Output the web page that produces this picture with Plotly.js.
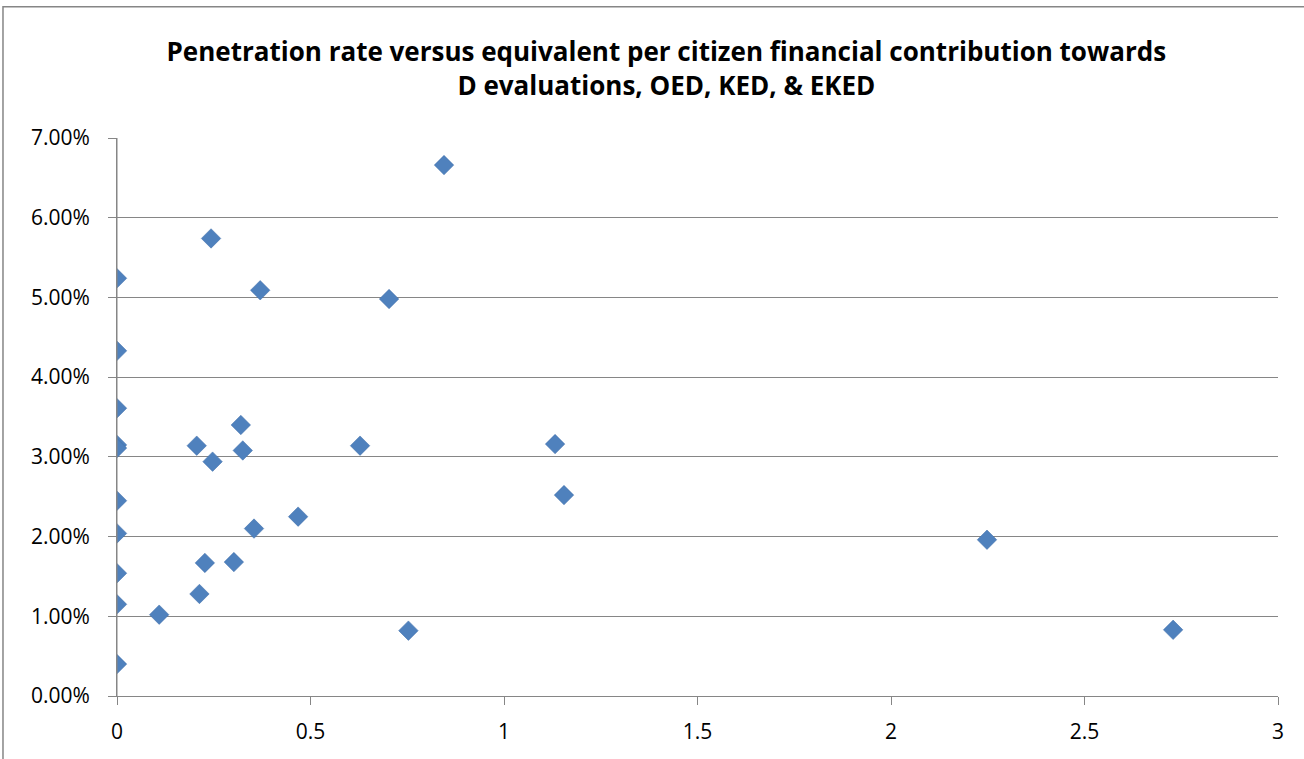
<!DOCTYPE html>
<html>
<head>
<meta charset="utf-8">
<script src="https://cdn.plot.ly/plotly-3.0.1.min.js"></script>
<style>html,body{margin:0;padding:0;background:#fff;}#chart{width:1304px;height:759px;}</style>
</head>
<body>
<div id="chart"></div>
<script>
const contribution = [0, 0, 0, 0, 0, 0, 0, 0, 0, 0,
  0.370, 0.320, 0.206, 0.247, 0.325, 0.354, 0.227, 0.302, 0.213, 0.109,
  0.845, 0.243, 0.703,
  0.468, 0.628, 0.753, 1.132, 1.155, 2.248, 2.729];
const penetration = [0.0524, 0.0433, 0.0361, 0.0315, 0.0311, 0.0245, 0.0204, 0.0154, 0.0115, 0.0040,
  0.0509, 0.0340, 0.0314, 0.0294, 0.0308, 0.0210, 0.0167, 0.0168, 0.0128, 0.0102,
  0.0666, 0.0574, 0.0498,
  0.0225, 0.0314, 0.0082, 0.0316, 0.0252, 0.0196, 0.0083];
const xTicks = [0, 0.5, 1, 1.5, 2, 2.5, 3];
const yTicks = [0, 0.01, 0.02, 0.03, 0.04, 0.05, 0.06, 0.07];
const titleText = 'Penetration rate versus equivalent per citizen financial contribution towards<br>D evaluations, OED, KED, & EKED';

const font = 'Open Sans, Noto Sans, sans-serif';
Plotly.newPlot('chart', [{
  type: 'scatter', mode: 'markers',
  x: contribution, y: penetration,
  marker: {symbol: 'diamond', size: 15, color: '#4F81BD', line: {color: '#3E6DA8', width: 0.5}},
  hoverinfo: 'x+y'
}], {
  width: 1304, height: 759,
  margin: {l: 117, r: 26, t: 138, b: 63},
  paper_bgcolor: '#fff', plot_bgcolor: '#fff',
  showlegend: false,
  title: {text: titleText, x: 0.511, xref: 'container', y: 0.920, yref: 'container', yanchor: 'middle',
    font: {family: font, size: 26, color: '#000', weight: 'bold'}},
  xaxis: {range: [0, 3], tickvals: xTicks, ticktext: xTicks.map(String),
    showgrid: false, zeroline: false, showline: true, linecolor: '#868686', linewidth: 1,
    ticks: 'outside', ticklen: 8, tickcolor: '#868686', ticklabelstandoff: 9,
    tickfont: {family: font, size: 21, color: '#000'}, fixedrange: true},
  yaxis: {range: [0, 0.07], tickvals: yTicks, ticktext: yTicks.map(v => (v*100).toFixed(2) + '%'),
    showgrid: true, gridcolor: '#868686', gridwidth: 1, zeroline: false,
    showline: true, linecolor: '#868686', linewidth: 1,
    ticks: 'outside', ticklen: 8, tickcolor: '#868686', ticklabelstandoff: 14,
    tickfont: {family: font, size: 21, color: '#000'}, fixedrange: true},
  shapes: [{type: 'rect', xref: 'paper', yref: 'paper', x0: -0.0982, x1: 1.03, y0: -0.2, y1: 1.235,
    line: {color: '#868686', width: 1.5}, fillcolor: 'rgba(0,0,0,0)', layer: 'below'},
    {type: 'line', xref: 'x', yref: 'paper', x0: 0, x1: 0, y0: 0, y1: 1, line: {color: '#868686', width: 1}}]
}, {displayModeBar: false});
</script>
</body>
</html>
